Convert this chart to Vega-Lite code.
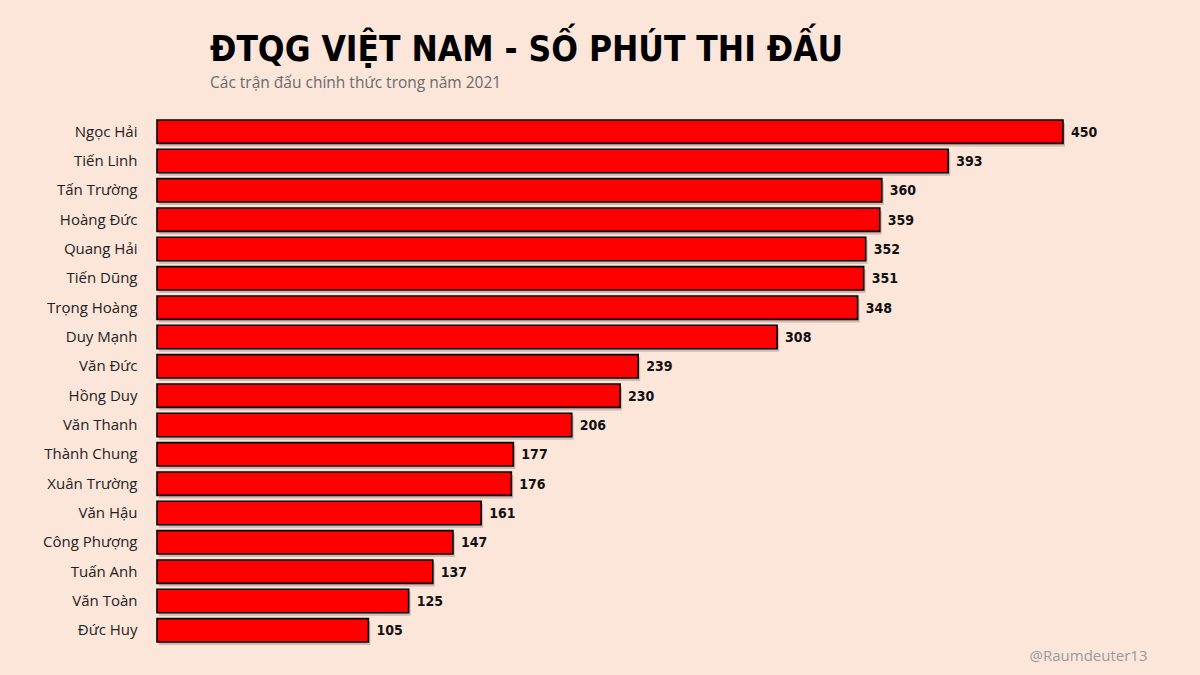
{
  "$schema": "https://vega.github.io/schema/vega-lite/v6.json",
  "autosize": {"type": "none"},
  "width": 906,
  "height": 528,
  "padding": {"left": 157, "top": 117, "right": 137, "bottom": 30},
  "background": "#fce5d9",
  "view": {"stroke": null},
  "title": {
    "text": "ĐTQG VIỆT NAM - SỐ PHÚT THI ĐẤU",
    "subtitle": "Các trận đấu chính thức trong năm 2021",
    "anchor": "start",
    "frame": "group",
    "dx": 53,
    "offset": 26,
    "font": "DejaVu Sans Condensed, Roboto",
    "fontSize": 35,
    "fontWeight": "bold",
    "color": "#000000",
    "subtitleFont": "Open Sans",
    "subtitleFontSize": 15.5,
    "subtitleColor": "#6b6b6b",
    "subtitlePadding": 8
  },
  "data": {
    "values": [
      {"player": "Ngọc Hải", "minutes": 450},
      {"player": "Tiến Linh", "minutes": 393},
      {"player": "Tấn Trường", "minutes": 360},
      {"player": "Hoàng Đức", "minutes": 359},
      {"player": "Quang Hải", "minutes": 352},
      {"player": "Tiến Dũng", "minutes": 351},
      {"player": "Trọng Hoàng", "minutes": 348},
      {"player": "Duy Mạnh ", "minutes": 308},
      {"player": "Văn Đức", "minutes": 239},
      {"player": "Hồng Duy", "minutes": 230},
      {"player": "Văn Thanh", "minutes": 206},
      {"player": "Thành Chung", "minutes": 177},
      {"player": "Xuân Trường", "minutes": 176},
      {"player": "Văn Hậu", "minutes": 161},
      {"player": "Công Phượng", "minutes": 147},
      {"player": "Tuấn Anh", "minutes": 137},
      {"player": "Văn Toàn", "minutes": 125},
      {"player": "Đức Huy", "minutes": 105}
    ]
  },
  "encoding": {
    "y": {
      "field": "player",
      "type": "nominal",
      "sort": {"field": "minutes", "order": "descending"},
      "scale": {"paddingInner": 0.2, "paddingOuter": 0.1},
      "axis": {
        "title": null,
        "domain": false,
        "ticks": false,
        "labelPadding": 20,
        "labelFont": "Open Sans",
        "labelFontSize": 15,
        "labelColor": "#222222"
      }
    },
    "x": {
      "field": "minutes",
      "type": "quantitative",
      "scale": {"domain": [0, 450], "nice": false},
      "axis": {
        "title": "@Raumdeuter13",
        "titleAnchor": "end",
        "titleAlign": "right",
        "titleX": 990,
        "titleY": 10,
        "titleBaseline": "middle",
        "titleFont": "Open Sans",
        "titleFontSize": 15,
        "titleFontWeight": "normal",
        "titleColor": "#9a9a9a",
        "domain": false,
        "ticks": false,
        "labels": false,
        "grid": false
      }
    }
  },
  "layer": [
    {
      "mark": {"type": "bar", "color": "#000000", "opacity": 0.18, "xOffset": 2, "yOffset": 3}
    },
    {
      "mark": {"type": "bar", "color": "#ff0000", "stroke": "#000000", "strokeWidth": 1.6}
    },
    {
      "mark": {"type": "text", "align": "left", "baseline": "middle", "dx": 8, "dy": 1, "font": "DejaVu Sans Condensed, Roboto", "fontSize": 14, "fontWeight": "bold", "color": "#111111"},
      "encoding": {"text": {"field": "minutes", "type": "quantitative"}}
    }
  ]
}
